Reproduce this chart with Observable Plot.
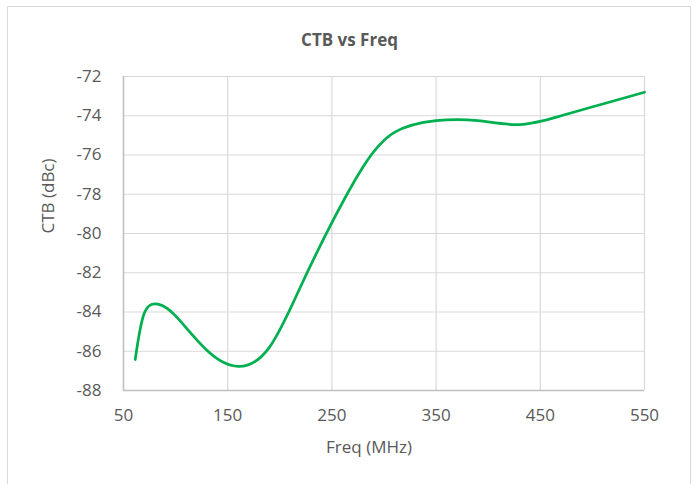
<!DOCTYPE html>
<html>
<head>
<meta charset="utf-8">
<script src="https://cdn.jsdelivr.net/npm/d3@7"></script>
<script src="https://cdn.jsdelivr.net/npm/@observablehq/plot@0.6"></script>
<style>
  html, body { margin: 0; padding: 0; background: #fff; }
  #wrap { position: relative; width: 699px; height: 484px; overflow: hidden; font-family: "Open Sans", sans-serif; }
  #border { position: absolute; left: 7px; top: 6px; width: 684px; height: 500px; border: 1px solid #d9d9d9; box-sizing: border-box; }
  #title { position: absolute; left: 0; top: 27px; width: 699px; text-align: center; font-size: 17px; font-weight: bold; color: #595959; line-height: 26px; }
  #chart { position: absolute; left: 0; top: 60px; }
</style>
</head>
<body>
<div id="wrap">
  <div id="border"></div>
  <div id="title">CTB vs Freq</div>
  <div id="chart"></div>
</div>
<script>
const freq = [61.25, 70, 83, 100, 130, 160, 190, 220, 250, 280, 310, 350, 390, 430, 470, 510, 550];
const ctb = [-86.42, -84.05, -83.6, -84.2, -85.95, -86.77, -85.8, -82.7, -79.45, -76.6, -74.85, -74.25, -74.25, -74.45, -74.0, -73.4, -72.8];
const xTicks = [50, 150, 250, 350, 450, 550];
const yTicks = [-88, -86, -84, -82, -80, -78, -76, -74, -72];
const xTitle = "Freq (MHz)";
const yTitle = "CTB (dBc)";

const data = freq.map((f, i) => ({f, v: ctb[i]}));
const fmt = d => String(d);

const chart = Plot.plot({
  width: 699,
  height: 424,
  marginTop: 16,
  marginBottom: 94,
  marginLeft: 123,
  marginRight: 55,
  style: { fontFamily: "Open Sans, sans-serif", fontSize: "17px", color: "#595959", background: "transparent" },
  x: { domain: [50, 550], ticks: xTicks },
  y: { domain: [-88, -72], ticks: yTicks },
  marks: [
    Plot.gridX(xTicks, { stroke: "#d9d9d9", strokeOpacity: 1, strokeWidth: 1.2 }),
    Plot.gridY(yTicks, { stroke: "#d9d9d9", strokeOpacity: 1, strokeWidth: 1.2 }),
    Plot.ruleX([50], { stroke: "#bfbfbf", strokeWidth: 1.5 }),
    Plot.ruleY([-88], { stroke: "#bfbfbf", strokeWidth: 1.5 }),
    Plot.axisX(xTicks, { tickSize: 0, tickPadding: 18, label: null, tickFormat: fmt, fill: "#595959", fontSize: 17 }),
    Plot.axisY(yTicks, { tickSize: 0, tickPadding: 22, label: null, tickFormat: fmt, fill: "#595959", fontSize: 17 }),
    Plot.text([xTitle], { frameAnchor: "bottom", dy: 62, dx: -15, text: d => d, fill: "#595959", fontSize: 17 }),
    Plot.text([yTitle], { frameAnchor: "left", dx: -75, rotate: -90, text: d => d, fill: "#595959", fontSize: 17 }),
    Plot.line(data, { x: "f", y: "v", stroke: "#00b050", strokeWidth: 2.75, curve: "natural" })
  ]
});
document.getElementById("chart").appendChild(chart);
</script>
</body>
</html>
